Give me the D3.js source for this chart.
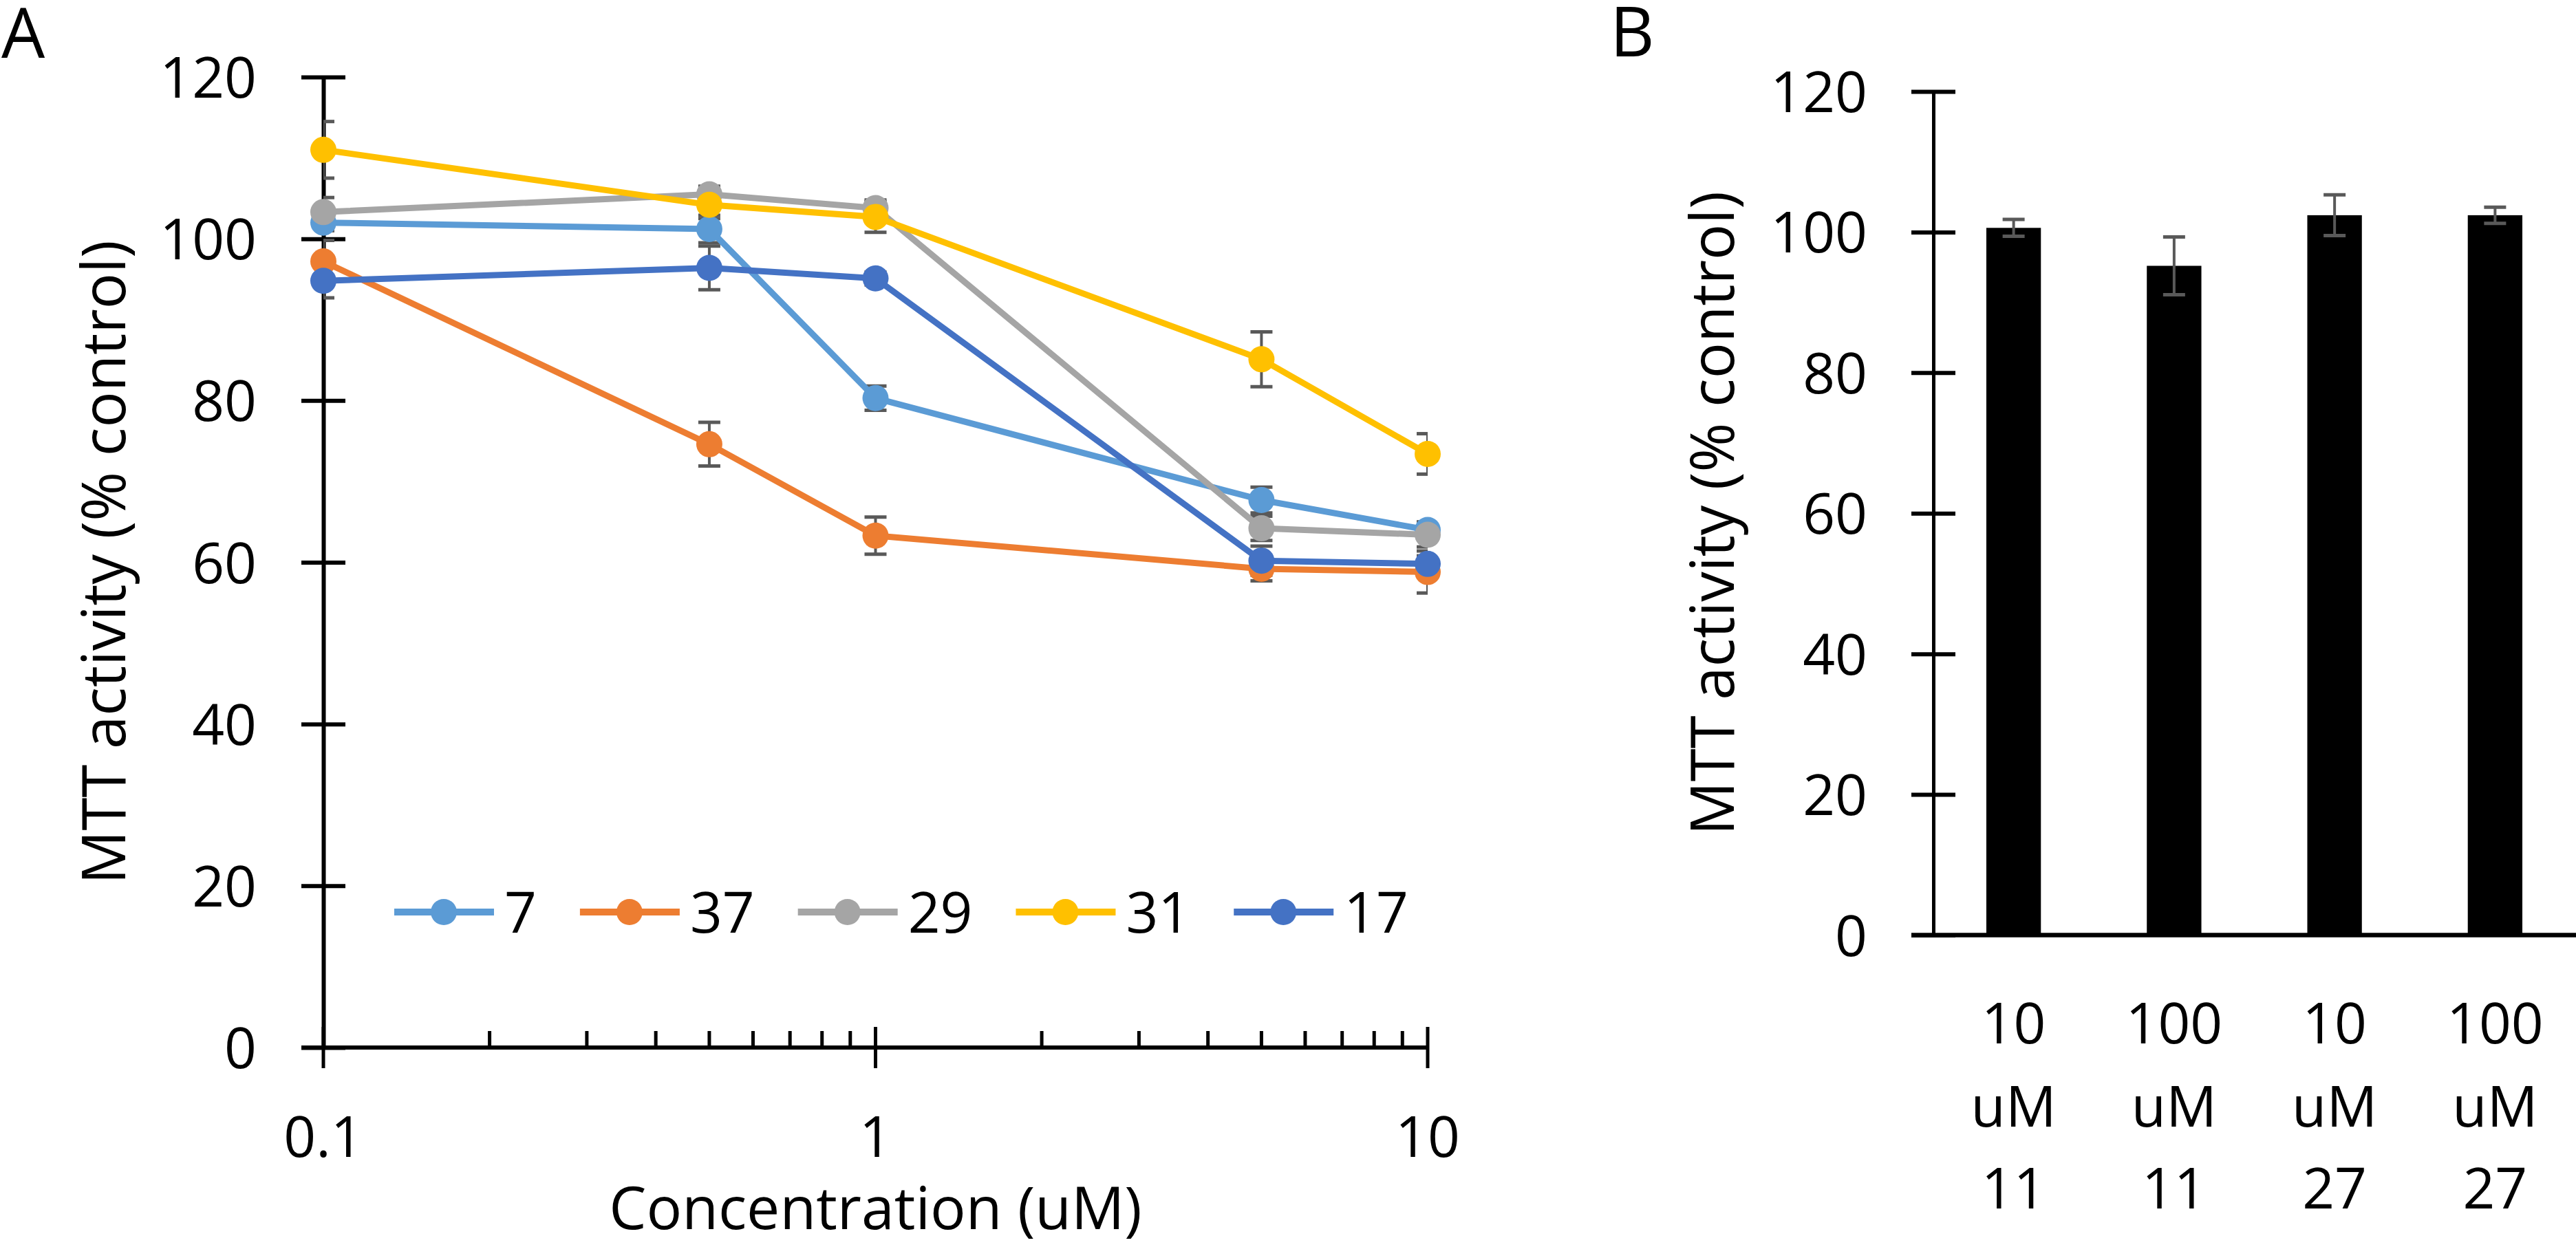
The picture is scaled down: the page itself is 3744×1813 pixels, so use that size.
<!DOCTYPE html>
<html>
<head>
<meta charset="utf-8">
<script src="https://cdn.jsdelivr.net/npm/d3@7"></script>
<style>
  html, body { margin: 0; padding: 0; background: #fff; }
  svg { display: block; font-family: "Open Sans", "Noto Sans", sans-serif; }
</style>
</head>
<body>
<svg id="chart" width="3744" height="1813"></svg>
<script>
// ---------- Panel A data ----------
const concentrations = [0.1, 0.5, 1, 5, 10];
const seriesNames = ["7", "37", "29", "31", "17"];
const values7  = [102.0, 101.2, 80.3, 67.7, 64.0];
const values37 = [97.2, 74.6, 63.3, 59.2, 58.8];
const values29 = [103.3, 105.5, 103.8, 64.2, 63.4];
const values31 = [111.0, 104.2, 102.7, 85.1, 73.4];
const values17 = [94.8, 96.4, 95.1, 60.2, 59.8];
const errors7  = [1.0, 1.7, 1.5, 1.6, 1.0];
const errors37 = [2.6, 2.7, 2.3, 1.5, 2.6];
const errors29 = [1.8, 1.0, 1.0, 1.5, 1.5];
const errors31 = [3.5, 1.7, 1.9, 3.4, 2.5];
const errors17 = [2.1, 2.7, 0.8, 1.8, 1.0];
const xTickValuesA = [0.1, 1, 10];
const xTickLabelsA = ["0.1", "1", "10"];
const yTickValues = [0, 20, 40, 60, 80, 100, 120];

// ---------- Panel B data ----------
const barCategories = ["10 uM 11", "100 uM 11", "10 uM 27", "100 uM 27"];
const barValues = [100.6, 95.2, 102.4, 102.4];
const barErrors = [1.2, 4.1, 2.9, 1.15];

// ---------- styles ----------
const seriesColors = ["#5B9BD5", "#ED7D31", "#A5A5A5", "#FFC000", "#4472C4"];
const errColor = "#595959";
const tickFont = 82, titleFont = 87, panelFont = 100;

const seriesValues = [values7, values37, values29, values31, values17];
const seriesErrors = [errors7, errors37, errors29, errors31, errors17];
const series = seriesNames.map((name, i) => ({
  name, color: seriesColors[i],
  points: concentrations.map((c, j) => ({ x: c, y: seriesValues[i][j], e: seriesErrors[i][j] }))
}));

const svg = d3.select("#chart");

// ================= Panel A =================
const A = { left: 470, right: 2075, top: 112, bottom: 1523 };
const xA = d3.scaleLog().domain([0.1, 10]).range([A.left, A.right]);
const yA = d3.scaleLinear().domain([0, 120]).range([A.bottom, A.top]);

const gA = svg.append("g");

// clip for error bars (plot area)
svg.append("defs").append("clipPath").attr("id", "clipA")
  .append("rect").attr("x", A.left).attr("y", 0)
  .attr("width", A.right - A.left).attr("height", A.bottom);

// y axis
const yAxisA = gA.append("g").attr("transform", `translate(${A.left},0)`)
  .call(d3.axisLeft(yA).tickValues(yTickValues).tickSize(32).tickSizeOuter(0));
yAxisA.select(".domain").attr("stroke", "#000").attr("stroke-width", 6);
yAxisA.selectAll(".tick line").attr("x1", 32).attr("x2", -32).attr("stroke", "#000").attr("stroke-width", 6);
yAxisA.selectAll(".tick text").attr("x", -97).attr("dy", "0.36em")
  .attr("font-size", tickFont).attr("font-family", "Open Sans").attr("fill", "#000");

// x axis (log) - minor ticks upward, major crossing
const minorTicks = [];
[0.1, 1].forEach(dec => { for (let k = 2; k <= 9; k++) minorTicks.push(dec * k); });
const xAxisA = gA.append("g");
xAxisA.append("line").attr("x1", A.left - 32).attr("x2", A.right)
  .attr("y1", A.bottom).attr("y2", A.bottom).attr("stroke", "#000").attr("stroke-width", 6);
xAxisA.selectAll("line.minor").data(minorTicks).join("line").attr("class", "minor")
  .attr("x1", d => xA(d)).attr("x2", d => xA(d))
  .attr("y1", A.bottom).attr("y2", A.bottom - 24)
  .attr("stroke", "#000").attr("stroke-width", 5);
xAxisA.selectAll("line.major").data(xTickValuesA).join("line").attr("class", "major")
  .attr("x1", d => xA(d)).attr("x2", d => xA(d))
  .attr("y1", A.bottom - 30).attr("y2", A.bottom + 30)
  .attr("stroke", "#000").attr("stroke-width", 5);
xAxisA.selectAll("text").data(xTickValuesA).join("text")
  .attr("x", d => xA(d)).attr("y", 1682)
  .attr("text-anchor", "middle").attr("font-size", tickFont).attr("fill", "#000")
  .text((d, i) => xTickLabelsA[i]);

// error bars (clipped to plot area)
const errG = gA.append("g").attr("clip-path", "url(#clipA)");
series.forEach(s => {
  const g = errG.append("g");
  g.selectAll("line.stem").data(s.points).join("line").attr("class", "stem")
    .attr("x1", d => xA(d.x)).attr("x2", d => xA(d.x))
    .attr("y1", d => yA(d.y - d.e)).attr("y2", d => yA(d.y + d.e))
    .attr("stroke", errColor).attr("stroke-width", 4);
  ["lo", "hi"].forEach(k => {
    g.selectAll("line.cap" + k).data(s.points).join("line").attr("class", "cap" + k)
      .attr("x1", d => xA(d.x) - 16).attr("x2", d => xA(d.x) + 16)
      .attr("y1", d => yA(k === "lo" ? d.y - d.e : d.y + d.e))
      .attr("y2", d => yA(k === "lo" ? d.y - d.e : d.y + d.e))
      .attr("stroke", errColor).attr("stroke-width", 5);
  });
});

// lines + markers
const line = d3.line().x(d => xA(d.x)).y(d => yA(d.y));
series.forEach(s => {
  const g = gA.append("g");
  g.append("path").datum(s.points).attr("d", line)
    .attr("fill", "none").attr("stroke", s.color).attr("stroke-width", 9)
    .attr("stroke-linejoin", "round");
  g.selectAll("circle").data(s.points).join("circle")
    .attr("cx", d => xA(d.x)).attr("cy", d => yA(d.y)).attr("r", 19)
    .attr("fill", s.color);
});

// legend
const legend = gA.append("g");
let lx = 573;
const ly = 1326;
series.forEach(s => {
  const item = legend.append("g");
  item.append("line").attr("x1", lx).attr("x2", lx + 145).attr("y1", ly).attr("y2", ly)
    .attr("stroke", s.color).attr("stroke-width", 10);
  item.append("circle").attr("cx", lx + 72).attr("cy", ly).attr("r", 19).attr("fill", s.color);
  const t = item.append("text").attr("x", lx + 160).attr("y", ly + 30)
    .attr("font-size", tickFont).attr("fill", "#000").text(s.name);
  lx = lx + 160 + t.node().getComputedTextLength() + 63;
});

// titles
gA.append("text").attr("x", (A.left + A.right) / 2).attr("y", 1787)
  .attr("text-anchor", "middle").attr("font-size", 86).attr("fill", "#000")
  .text("Concentration (uM)");
gA.append("text").attr("transform", `translate(182,${(A.top + A.bottom) / 2}) rotate(-90)`)
  .attr("text-anchor", "middle").attr("font-size", titleFont).attr("fill", "#000")
  .text("MTT activity (% control)");
gA.append("text").attr("x", 2).attr("y", 84).attr("font-size", panelFont).attr("fill", "#000").text("A");

// ================= Panel B =================
const B = { left: 2810, right: 3743, top: 133, bottom: 1359.5 };
const xB = d3.scaleBand().domain(barCategories).range([B.left, B.right])
  .paddingInner(0.66).paddingOuter(0.33);
const yB = d3.scaleLinear().domain([0, 120]).range([B.bottom, B.top]);
const gB = svg.append("g");

const yAxisB = gB.append("g").attr("transform", `translate(${B.left},0)`)
  .call(d3.axisLeft(yB).tickValues(yTickValues).tickSize(32).tickSizeOuter(0));
yAxisB.select(".domain").attr("stroke", "#000").attr("stroke-width", 5);
yAxisB.selectAll(".tick line").attr("x1", 32).attr("x2", -32).attr("stroke", "#000").attr("stroke-width", 6);
yAxisB.selectAll(".tick text").attr("x", -96).attr("dy", "0.36em")
  .attr("font-size", tickFont).attr("font-family", "Open Sans").attr("fill", "#000");

// bars
gB.selectAll("rect.bar").data(barCategories).join("rect").attr("class", "bar")
  .attr("x", d => xB(d)).attr("width", xB.bandwidth())
  .attr("y", (d, i) => yB(barValues[i])).attr("height", (d, i) => yB(0) - yB(barValues[i]))
  .attr("fill", "#000");

// bar error bars
const ebB = gB.append("g");
barCategories.forEach((c, i) => {
  const cx = xB(c) + xB.bandwidth() / 2;
  const lo = yB(barValues[i] - barErrors[i]), hi = yB(barValues[i] + barErrors[i]);
  ebB.append("line").attr("x1", cx).attr("x2", cx).attr("y1", lo).attr("y2", hi)
    .attr("stroke", errColor).attr("stroke-width", 4);
  [lo, hi].forEach(yy => ebB.append("line").attr("x1", cx - 16).attr("x2", cx + 16)
    .attr("y1", yy).attr("y2", yy).attr("stroke", errColor).attr("stroke-width", 5));
});

// x axis B
gB.append("line").attr("x1", B.left - 32).attr("x2", 3744).attr("y1", B.bottom).attr("y2", B.bottom)
  .attr("stroke", "#000").attr("stroke-width", 6.5);

// category labels (three lines)
const lineBaselines = [1517, 1638, 1757];
barCategories.forEach(c => {
  const parts = c.split(" ");
  const t = gB.append("text").attr("text-anchor", "middle").attr("font-size", tickFont).attr("fill", "#000");
  parts.forEach((p, k) => t.append("tspan").attr("x", xB(c) + xB.bandwidth() / 2)
    .attr("y", lineBaselines[k]).text(p));
});

gB.append("text").attr("transform", `translate(2520,${(B.top + B.bottom) / 2}) rotate(-90)`)
  .attr("text-anchor", "middle").attr("font-size", titleFont).attr("fill", "#000")
  .text("MTT activity (% control)");
gB.append("text").attr("x", 2340).attr("y", 82).attr("font-size", panelFont).attr("fill", "#000").text("B");
</script>
</body>
</html>
